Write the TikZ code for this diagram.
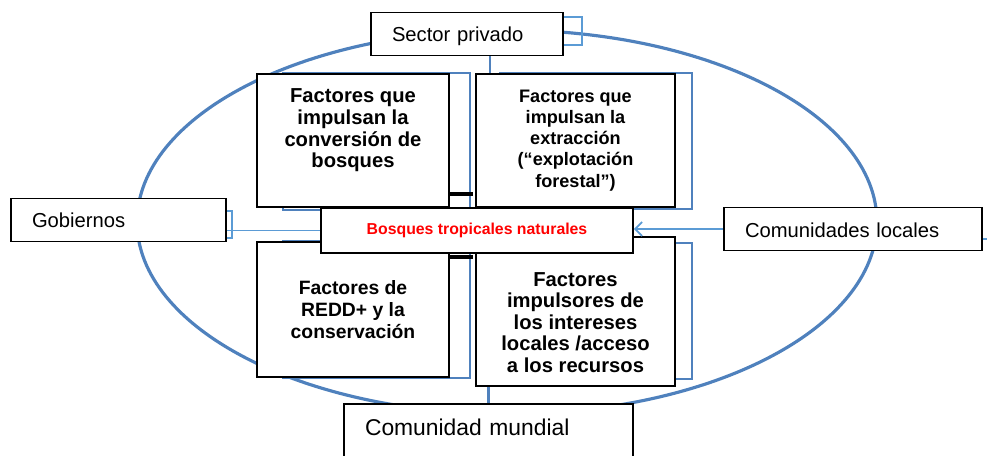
\documentclass[tikz,border=0pt]{standalone}
\usepackage{fontspec}
\setmainfont{Liberation Sans}
\usetikzlibrary{arrows.meta,positioning,calc}
\definecolor{FrameBlue}{RGB}{79,129,189}
\definecolor{LinkBlue}{RGB}{91,155,213}
\definecolor{ForestRed}{RGB}{255,0,0}
\tikzset{
  actor/.style={draw=black,fill=white,line width=0.9pt,align=left,inner xsep=0.42cm,minimum height=0.86cm,text height=0.4cm,text depth=0.08cm,font=\fontsize{11.5}{13}\selectfont},
  factorbox/.style={draw=black,fill=white,line width=0.9pt,inner sep=0pt},
  factortext/.style={align=center,font=\bfseries\fontsize{11.5}{12.3}\selectfont},
  forestbox/.style={draw=black,fill=white,line width=0.9pt,minimum width=6.24cm,minimum height=0.9cm,font=\bfseries\fontsize{9}{11}\selectfont,text=ForestRed},
  backframe/.style={draw=FrameBlue,line width=1.4pt},
  lightframe/.style={draw=LinkBlue,line width=0.8pt},
  ringline/.style={draw=FrameBlue,line width=1.8pt},
  blockbar/.style={draw=black,line width=2.2pt},
  link/.style={draw=LinkBlue,line width=1pt},
  linkarrow/.style={-{Straight Barb[length=1.4mm]},draw=LinkBlue,line width=1pt},
  droplink/.style={draw=FrameBlue,line width=1.3pt}
}

\begin{document}
\begin{tikzpicture}[x=0.02cm,y=-0.02cm]
\useasboundingbox (0,0) rectangle (987,456);

% ring of actors
\draw[ringline] (507,222) ellipse [x radius=7.4cm, y radius=3.84cm];

% frames behind the boxes
\draw[backframe] (283,73) rectangle (470,210);
\draw[backframe] (283,241) rectangle (470,378);
\draw[backframe] (500,73) rectangle (692,209);
\draw[backframe] (500,243) rectangle (692,379);
\draw[lightframe] (540,17) rectangle (582,45);
\draw[lightframe] (200,211) rectangle (232,238);

\node[actor, text width=3.0cm] (sp) at (467,34) {Sector privado};
\node[actor, text width=3.46cm] (gob) at (118.5,220) {Gobiernos};
\node[actor, text width=4.32cm] (cl) at (853,229) {Comunidades locales};
\node[actor, text width=4.94cm, anchor=north, font=\fontsize{13}{15}\selectfont,
      inner ysep=0.24cm, text depth=1cm] (cm) at (488.5,403) {Comunidad mundial};

\node[factorbox, minimum width=3.84cm, minimum height=2.66cm] (tl) at (353,140.5) {};
\node[factorbox, minimum width=3.98cm, minimum height=2.66cm] (tr) at (575.5,140.5) {};
\node[factorbox, minimum width=3.84cm, minimum height=2.7cm] (bl) at (353,309.5) {};
\node[factorbox, minimum width=3.98cm, minimum height=2.98cm] (br) at (575.5,311.5) {};

\draw[blockbar] ([yshift=0.28cm]tl.south east) -- ++(23,0);
\draw[blockbar] ([yshift=-0.32cm]bl.north east) -- ++(23,0);

\node[factortext] (tltext) at ([yshift=0.2cm]tl.center) {Factores que\\impulsan la\\conversión de\\bosques};
\node[factortext, font=\bfseries\fontsize{10.3}{12}\selectfont] (trtext) at (tr.center) {Factores que\\impulsan la\\extracción\\(“explotación\\forestal”)};
\node[factortext, font=\bfseries\fontsize{11}{12.3}\selectfont] (bltext) at (bl.center) {Factores de\\REDD+ y la\\conservación};
\node[factortext] (brtext) at ([yshift=-0.22cm]br.center) {Factores\\impulsores de\\los intereses\\locales /acceso\\a los recursos};

\node[forestbox] (ctr) at (477,230.5) {Bosques tropicales naturales};

% links to the forest
\draw[link] (gob.east |- ctr.west) -- (ctr.west);
\draw[linkarrow] (cl.west) -- (cl.west -| ctr.east);
\draw[link, line width=0.8pt] ([yshift=-0.2cm]cl.east) -- ++(10,0);
\draw[droplink] ([xshift=0.46cm]sp.south) -- ([xshift=0.46cm]sp.south |- tr.north);
\draw[droplink] (cm.north) -- (cm.north |- br.south);
\end{tikzpicture}
\end{document}
